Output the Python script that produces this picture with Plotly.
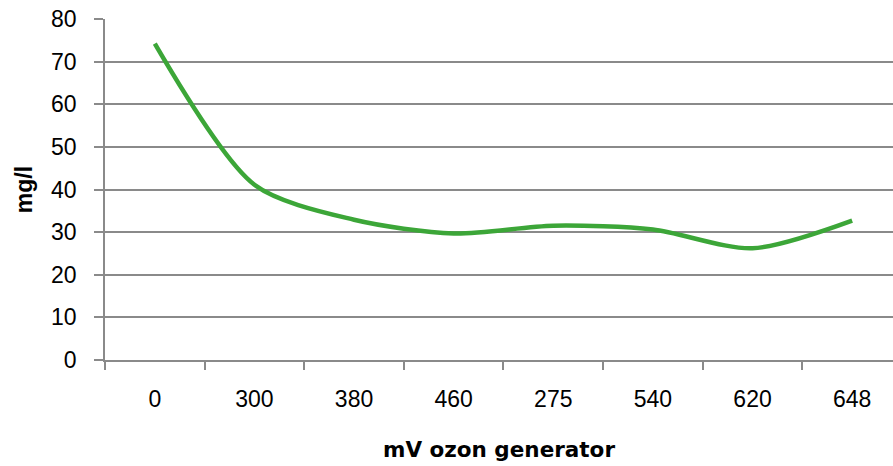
import plotly.graph_objects as go

categories = ["0", "300", "380", "460", "275", "540", "620", "648"]
values = [74.2, 41.1, 32.9, 29.7, 31.5, 30.6, 26.2, 32.7]
y_ticks = [0, 10, 20, 30, 40, 50, 60, 70, 80]

GRID = "#8a8a8a"
FONT = "Liberation Sans, Arial, sans-serif"

fig = go.Figure()
fig.add_trace(go.Scatter(
    x=categories, y=values, mode="lines",
    line=dict(color="#3ca638", width=4.5, shape="spline", smoothing=0.8),
    hoverinfo="x+y",
))

fig.update_layout(
    width=893, height=466,
    margin=dict(l=105, r=0, t=19, b=106),
    paper_bgcolor="white", plot_bgcolor="white",
    showlegend=False,
    font=dict(family=FONT, color="#000000", size=23),
    xaxis=dict(
        type="category",
        range=[-0.5, 7.41],
        tickson="boundaries",
        ticks="outside", ticklen=8, tickcolor=GRID, tickwidth=1.5,
        showline=True, linecolor=GRID, linewidth=1.5,
        showgrid=False,
        tickfont=dict(family=FONT, size=23),
        ticklabelstandoff=18,
        title=dict(text="<b>mV ozon generator</b>",
                   font=dict(family="DejaVu Sans, sans-serif", size=21.5),
                   standoff=31),
    ),
    yaxis=dict(
        range=[0, 80],
        tickvals=y_ticks,
        ticks="outside", ticklen=9, tickcolor=GRID, tickwidth=1.5,
        showline=True, linecolor=GRID, linewidth=1.5,
        showgrid=True, gridcolor=GRID, gridwidth=1.5,
        zeroline=False,
        tickfont=dict(family=FONT, size=23),
        ticklabelstandoff=13,
        title=dict(text="<b>mg/l</b>",
                   font=dict(family=FONT, size=23),
                   standoff=12),
    ),
)

fig.write_html("out.html")
